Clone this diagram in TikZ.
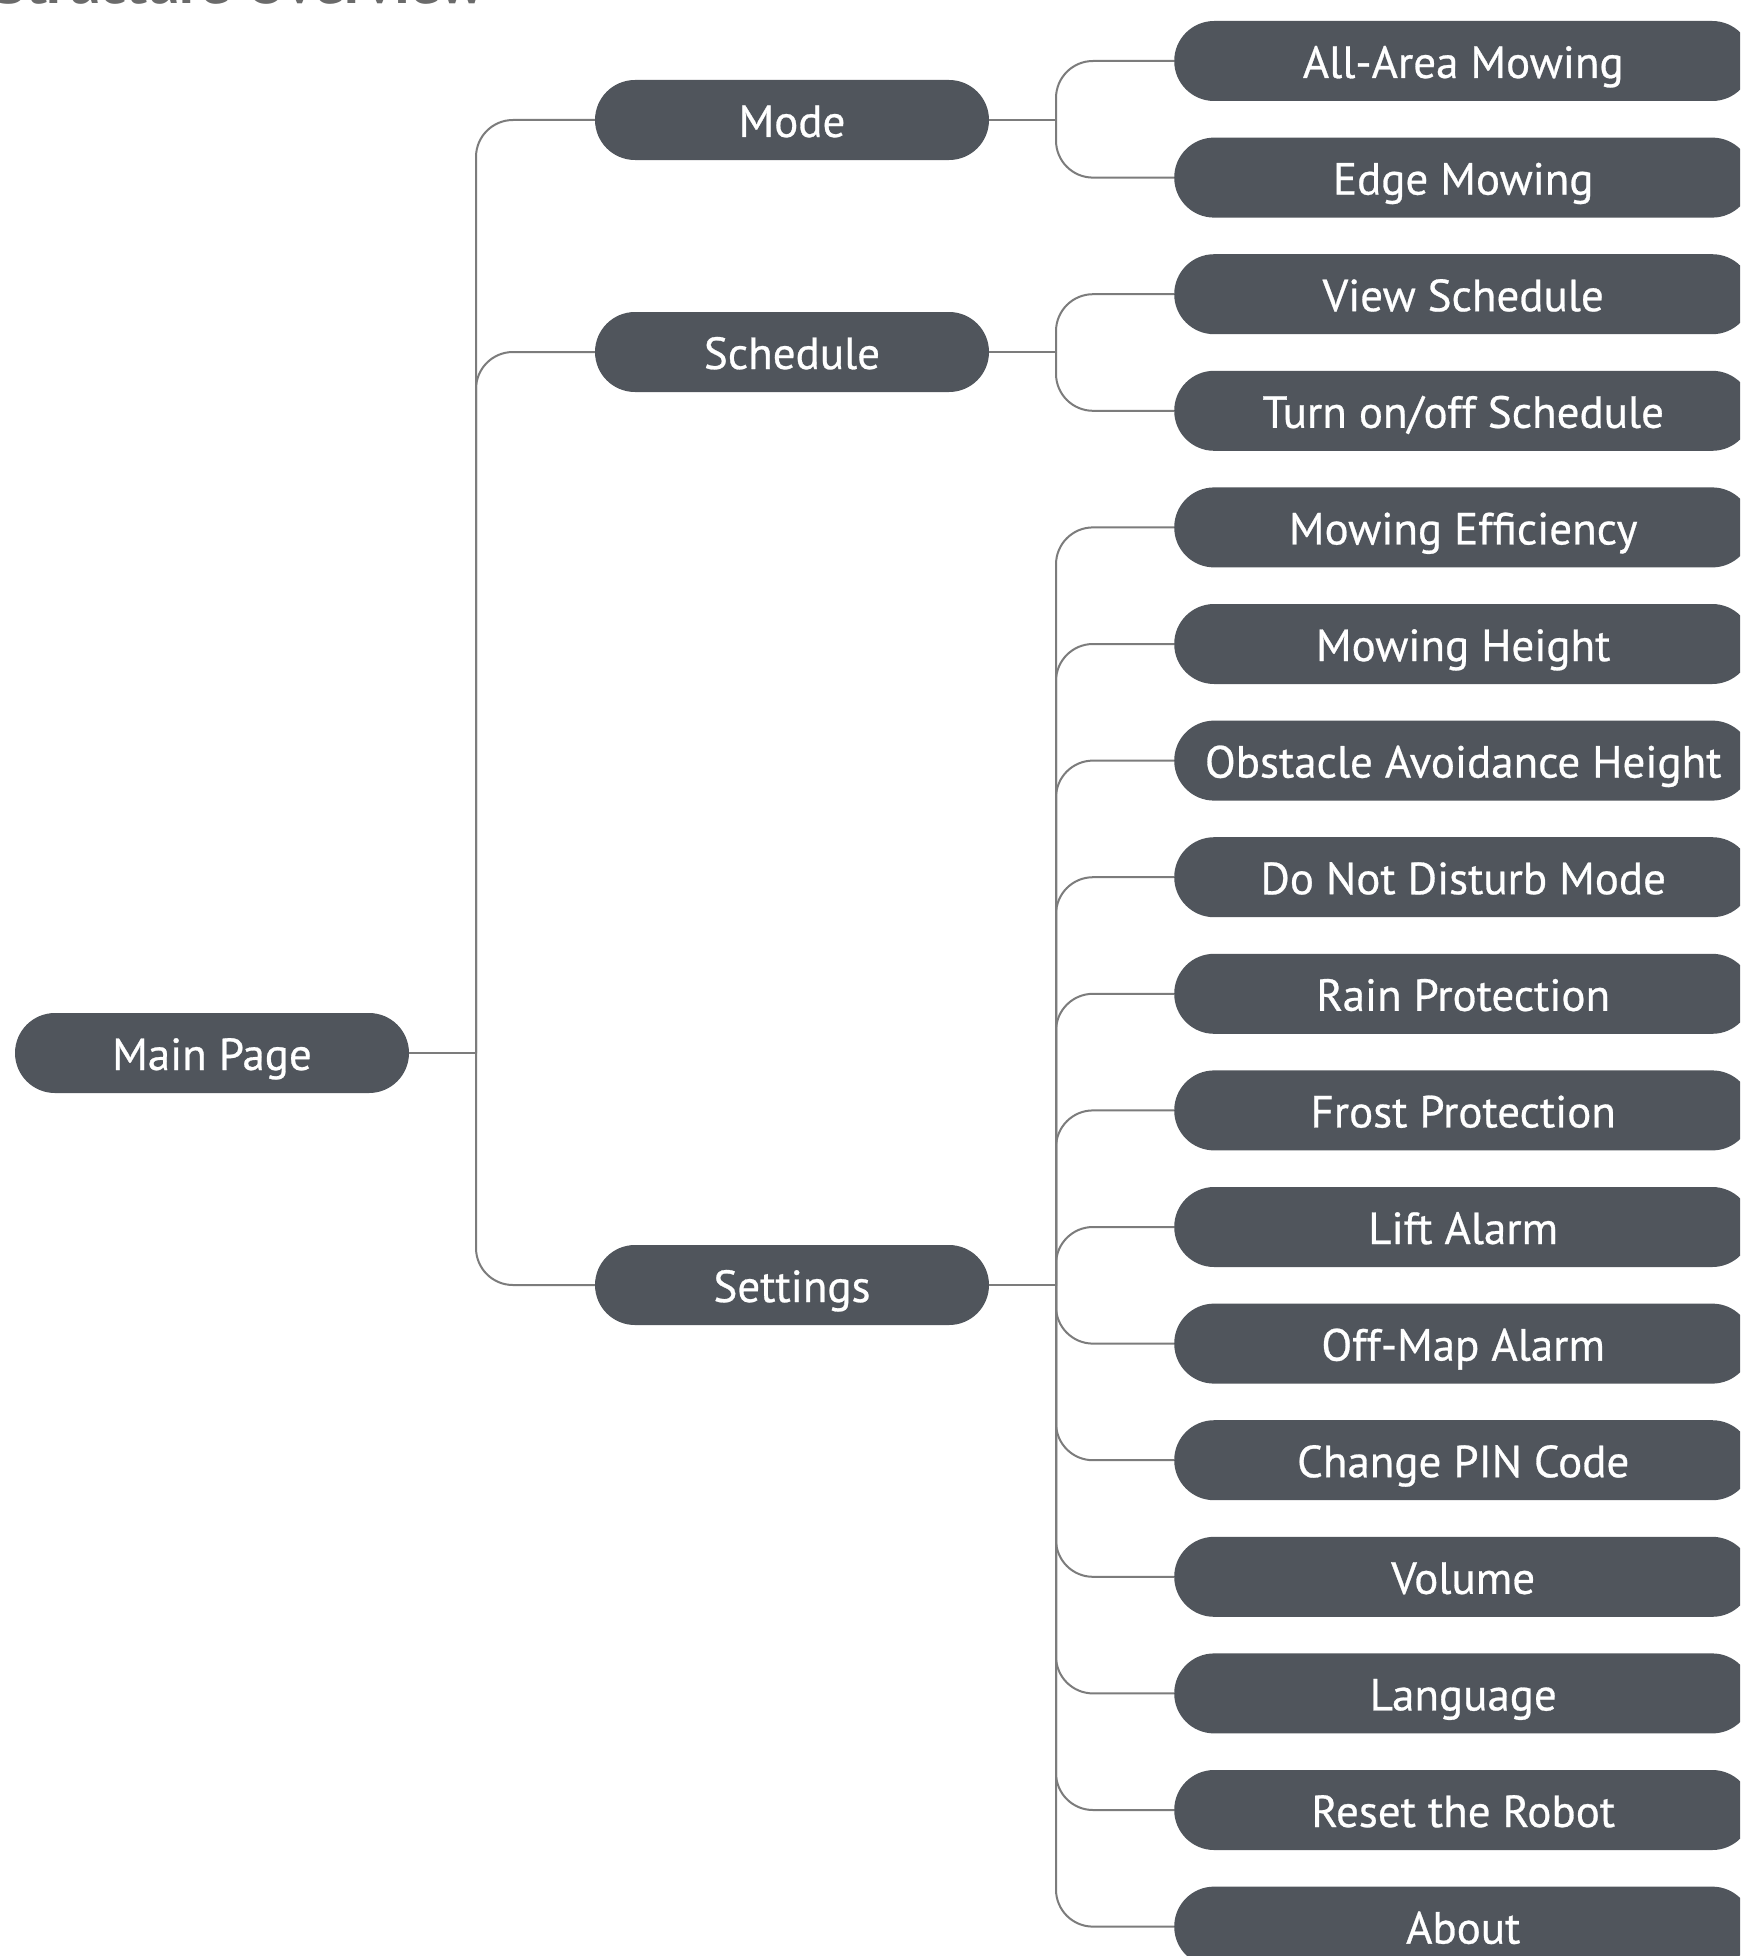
\documentclass[tikz,border=0pt]{standalone}
\usepackage{fontspec}
\setmainfont{PT Sans}
\newfontfamily\boxfont[FakeBold=0.6]{PT Sans}
\definecolor{boxgray}{HTML}{50555C}
\definecolor{linegray}{HTML}{7C7C7C}
\definecolor{titlegray}{HTML}{6A6A6A}
\begin{document}
\begin{tikzpicture}[x=1pt,y=-1pt,
  pill/.style={draw=none,fill=boxgray,text=white,rounded corners=40pt,
    minimum height=80pt,inner sep=0pt,text height=37pt,text depth=3pt,
    font=\boxfont\fontsize{45}{52}\selectfont},
  mid/.style={pill,minimum width=394pt},
  leaf/.style={pill,minimum width=578pt,anchor=west},
  conn/.style={draw=linegray,line width=2pt,rounded corners=37pt}]
\clip (0,0) rectangle (1740,1956);
\fill[white] (0,0) rectangle (1740,1956);
\node[anchor=base west,text=titlegray,inner sep=0pt,font=\fontsize{60}{70}\selectfont\bfseries] (title) at (-6,4) {Structure Overview};

\node[mid] (main) at (212,1053) {Main Page};
\node[mid] (mode) at (792,120) {Mode};
\node[mid] (sched) at (792,352) {Schedule};
\node[mid] (sett) at (792,1285) {Settings};

\foreach \i/\t in {0/{All-Area Mowing},1/{Edge Mowing},2/{View Schedule},3/{Turn on/off Schedule},
  4/{Mowing Efficiency},5/{Mowing Height},6/{Obstacle Avoidance Height},7/{Do Not Disturb Mode},
  8/{Rain Protection},9/{Frost Protection},10/{Lift Alarm},11/{Off-Map Alarm},12/{Change PIN Code},
  13/{Volume},14/{Language},15/{Reset the Robot},16/{About}}
  \node[leaf] (l\i) at (1174,{61+116.6*\i}) {\t};

\coordinate (j0) at (476,1053);
\coordinate (j1) at (1056,120);
\coordinate (j2) at (1056,352);
\coordinate (j3) at (1056,1285);

\draw[conn] (main.east) -- (j0);
\foreach \c in {mode,sched,sett} \draw[conn] (j0) |- (\c.west);

\draw[conn] (mode.east) -- (j1);
\foreach \i in {0,1} \draw[conn] (j1) |- (l\i.west);
\draw[conn] (sched.east) -- (j2);
\foreach \i in {2,3} \draw[conn] (j2) |- (l\i.west);
\draw[conn] (sett.east) -- (j3);
\foreach \i in {4,...,16} \draw[conn] (j3) |- (l\i.west);
\end{tikzpicture}
\end{document}
